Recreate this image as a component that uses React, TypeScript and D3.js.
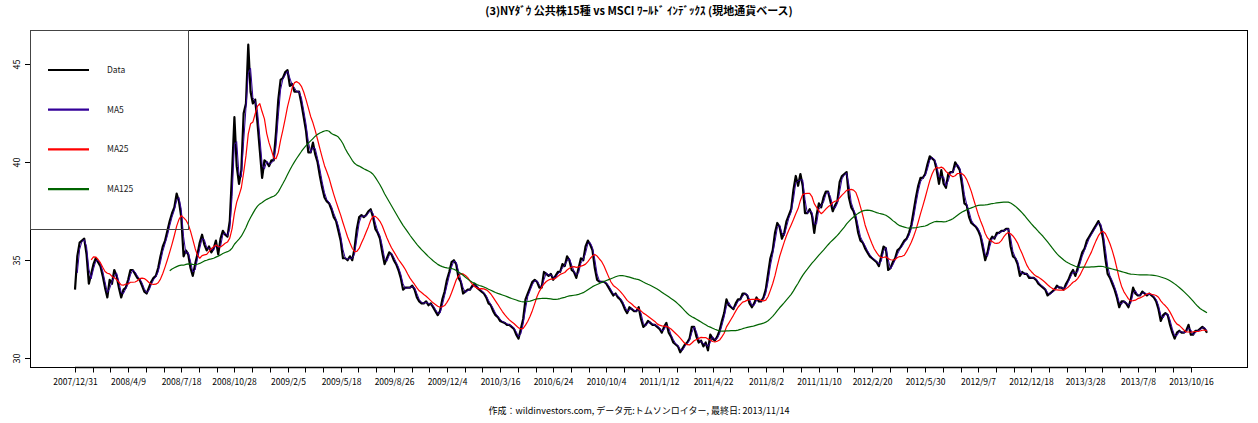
import React from "react";
import * as d3 from "d3";

// 3営業日ごとの終値（チャートから読み取り）
const STEP = 3;
const closes = [
  33.5, 35.2, 35.9, 36.0, 36.1, 35.3, 33.8, 34.3, 34.8, 35.1,
  34.9, 34.7, 34.2, 33.6, 33.1, 34.0, 33.8, 34.5, 34.2, 33.6,
  33.1, 33.5, 33.6, 34.0, 34.5, 34.5, 34.3, 34.1, 34.0, 33.7,
  33.4, 33.3, 33.6, 33.9, 34.1, 34.2, 34.6, 35.2, 35.7, 36.0,
  36.5, 37.0, 37.4, 37.7, 38.4, 38.0, 37.2, 35.2, 35.5, 35.3,
  34.6, 34.2, 34.8, 35.3, 35.9, 36.3, 35.8, 35.5, 35.7, 35.4,
  35.6, 36.0, 35.3, 36.1, 36.5, 36.3, 36.2, 37.0, 39.5, 42.3,
  39.8, 38.9, 39.6, 42.5, 43.0, 46.0, 43.6, 43.0, 43.2, 42.0,
  40.6, 39.2, 40.1, 40.0, 39.8, 40.1, 40.1, 41.5, 43.2, 44.2,
  44.3, 44.6, 44.7, 43.9, 44.0, 43.6, 43.6, 43.6, 43.0, 42.3,
  41.6, 40.5, 40.5, 41.0, 40.4, 40.0, 39.3, 38.7, 38.2, 38.0,
  37.9, 37.6, 37.2, 37.0, 36.5, 36.0, 35.1, 35.1, 35.0, 35.2,
  35.0, 35.6, 36.6, 37.2, 37.3, 37.2, 37.3, 37.5, 37.6, 37.2,
  36.6, 36.4, 36.1, 35.4, 34.8, 35.1, 35.4, 35.3, 35.0, 34.8,
  34.5, 34.1, 33.5, 33.6, 33.6, 33.6, 33.7, 33.5, 33.1, 32.9,
  32.8, 32.8, 32.9, 32.7, 32.8, 32.6, 32.4, 32.2, 32.4, 33.0,
  33.4, 34.0, 34.4, 34.9, 35.0, 34.8, 34.1, 33.9, 33.3, 33.4,
  33.5, 33.5, 33.7, 33.8, 33.6, 33.5, 33.4, 33.3, 33.1, 32.8,
  32.7, 32.4, 32.2, 32.1, 31.9, 31.85, 31.8, 31.7, 31.7, 31.6,
  31.5, 31.2, 31.0, 31.5, 32.0, 33.0, 33.3, 33.6, 33.9, 34.0,
  33.9, 33.6, 33.6, 34.4, 34.3, 34.2, 34.3, 34.0, 34.2, 34.4,
  34.4, 34.8, 34.7, 35.2, 35.0, 34.5, 34.4, 34.1, 34.6, 35.1,
  35.0, 35.7, 36.0, 35.8, 35.5, 34.6, 34.0, 33.9, 33.9, 33.9,
  33.8, 33.6, 33.4, 33.2, 33.3, 33.1, 33.0, 32.8, 32.5, 32.3,
  32.6, 32.5, 32.4, 32.4, 32.6, 32.0, 31.6, 31.7, 31.9, 31.8,
  31.7, 31.7, 31.6, 31.5, 31.3, 31.6, 31.8, 31.3, 31.1, 30.8,
  30.7, 30.6, 30.3, 30.5, 30.7, 30.8, 31.0, 31.6, 31.6, 31.1,
  30.8, 30.9, 30.6, 30.8, 30.4, 31.2, 31.0, 30.9, 31.1, 31.4,
  31.9, 32.3, 33.0, 32.7, 32.6, 32.5, 32.8, 33.0, 33.0, 33.3,
  33.3, 33.2, 32.8, 32.6, 32.8, 33.1, 32.9, 32.9, 33.1, 33.5,
  34.3, 35.1, 35.5, 36.4, 36.9, 36.7, 36.1, 36.4, 37.0, 37.3,
  37.6, 38.6, 39.3, 38.8, 39.4, 38.8, 37.4, 37.4, 37.6, 37.3,
  36.4, 37.3, 37.9, 37.7, 38.2, 38.5, 38.5, 38.0, 37.5, 37.8,
  38.0, 39.0, 39.3, 39.4, 39.5, 38.2, 37.7, 37.5, 37.1, 36.4,
  36.0, 35.9, 35.6, 35.4, 35.2, 35.1, 35.0, 34.9, 34.7, 35.2,
  35.7, 35.6, 34.5, 34.6, 34.9, 35.1, 35.5, 35.6, 35.8, 36.0,
  36.1, 36.4, 36.8, 37.5, 38.2, 38.8, 39.2, 39.2, 39.4, 39.9,
  40.3, 40.2, 40.1, 39.6, 38.9, 39.6, 38.9, 38.7, 39.4, 39.5,
  39.5, 40.0, 39.8, 39.6, 38.8, 37.9, 37.8, 37.2, 36.9, 36.8,
  36.7, 36.5, 36.2, 35.6, 35.0, 35.4, 36.0, 36.2, 36.1, 36.4,
  36.4, 36.5, 36.5, 36.6, 36.6, 35.7, 35.2, 35.1, 34.8, 34.2,
  34.4, 34.3, 34.3, 34.1, 34.1, 34.1, 34.0, 33.8, 33.7, 33.6,
  33.5, 33.2, 33.3, 33.4, 33.5, 33.7, 33.6, 33.6, 33.5, 33.8,
  34.0, 34.3, 34.5, 34.2, 34.6, 35.0, 35.4, 35.6, 36.0, 36.2,
  36.4, 36.6, 36.8, 37.0, 36.7, 36.1, 35.1, 34.3, 34.1, 33.8,
  33.5, 33.1, 32.6, 32.9, 32.9, 32.8, 32.6, 33.0, 33.6, 33.3,
  33.2, 33.2, 33.4, 33.3, 33.2, 33.3, 33.2, 33.1, 32.9, 32.5,
  31.9, 32.2, 32.3, 32.2, 31.7, 31.3, 31.0, 31.3, 31.4, 31.3,
  31.3, 31.4, 31.7, 31.2, 31.2, 31.4, 31.4, 31.5, 31.6, 31.5,
  31.3,
];

const tickLabels = [
  "2007/12/31", "2008/4/9", "2008/7/18", "2008/10/28", "2009/2/5",
  "2009/5/18", "2009/8/26", "2009/12/4", "2010/3/16", "2010/6/24",
  "2010/10/4", "2011/1/12", "2011/4/22", "2011/8/2", "2011/11/10",
  "2012/2/20", "2012/5/30", "2012/9/7", "2012/12/18", "2013/3/28",
  "2013/7/8", "2013/10/16",
];
const TICK_EVERY = 23; // 営業日
const LABEL_EVERY = 3; // 目盛り3本ごとに日付

const yTicks = [30, 35, 40, 45];

const series = [
  { name: "Data", days: 1, color: "#000000", width: 2.2 },
  { name: "MA5", days: 5, color: "#330099", width: 1.0 },
  { name: "MA25", days: 25, color: "#ff0000", width: 1.2 },
  { name: "MA125", days: 125, color: "#006400", width: 1.2 },
];

const TITLE = "(3)NYﾀﾞｳ 公共株15種 vs MSCI ﾜｰﾙﾄﾞ ｲﾝﾃﾞｯｸｽ (現地通貨ベース)";
const FOOTER = "作成：wildinvestors.com, データ元:トムソンロイター, 最終日: 2013/11/14";

const W = 1258;
const H = 423;
const plot = { left: 30, right: 1248, top: 30, bottom: 367 };

function movingAvg(vals: number[], w: number): (number | null)[] {
  return vals.map((_, i) => (i < w - 1 ? null : d3.mean(vals.slice(i - w + 1, i + 1))!));
}

export default function App() {
  const lastIdx = (closes.length - 1) * STEP;
  const x = d3.scaleLinear().domain([0, lastIdx]).range([75, 1207]);
  const y = d3.scaleLinear().domain([29.55, 46.75]).range([plot.bottom, plot.top]);

  const paths = series.map((s) => {
    const w = Math.max(1, Math.round(s.days / STEP));
    const vals = w === 1 ? closes : movingAvg(closes, w);
    const line = d3
      .line<number | null>()
      .defined((d) => d != null)
      .x((_, i) => x(i * STEP))
      .y((d) => y(d as number));
    return { ...s, d: line(vals) || "" };
  });

  const ticks = d3.range(0, tickLabels.length * LABEL_EVERY - LABEL_EVERY + 1).map((k) => k * TICK_EVERY);
  const font = "'Noto Sans CJK JP', 'DejaVu Sans', sans-serif";

  return (
    <div>
      <style>{"body{margin:0}"}</style>
      <svg width={W} height={H} style={{ display: "block", background: "#fff" }} fontFamily={font}>
        <text x={(plot.left + plot.right) / 2} y={15} textAnchor="middle" fontSize={11} fontWeight="bold">
          {TITLE}
        </text>

        <g fill="none" strokeLinejoin="round">
          {paths.map((p) => (
            <path key={p.name} d={p.d} stroke={p.color} strokeWidth={p.width} />
          ))}
        </g>

        {/* 枠 */}
        <rect
          x={plot.left + 0.5}
          y={plot.top + 0.5}
          width={plot.right - plot.left - 1}
          height={plot.bottom - plot.top}
          fill="none"
          stroke="#000"
        />

        {/* Y軸 */}
        <g>
          {yTicks.map((v) => (
            <g key={v} transform={`translate(${plot.left},${Math.round(y(v)) + 0.5})`}>
              <line x1={-5} x2={0} stroke="#000" />
              <text transform="translate(-13,0) rotate(-90)" textAnchor="middle" dy="0.35em" fontSize={9}>
                {v}
              </text>
            </g>
          ))}
        </g>

        {/* X軸 */}
        <g transform={`translate(0,${plot.bottom + 0.5})`}>
          <line x1={x(ticks[0])} x2={x(ticks[ticks.length - 1])} stroke="#000" strokeWidth={1.5} />
          {ticks.map((t, k) => (
            <g key={t} transform={`translate(${Math.round(x(t)) + 0.5},0)`}>
              <line y1={0} y2={5} stroke="#000" />
              {k % LABEL_EVERY === 0 && (
                <text y={17} textAnchor="middle" fontSize={8.5}>
                  {tickLabels[k / LABEL_EVERY]}
                </text>
              )}
            </g>
          ))}
        </g>

        {/* 凡例 */}
        <rect x={plot.left + 0.5} y={plot.top + 0.5} width={158} height={199} fill="none" stroke="#444" />
        {paths.map((p, i) => (
          <g key={p.name} transform={`translate(48,${70 + i * 39.7})`}>
            <line x1={0} x2={41} stroke={p.color} strokeWidth={2.2} />
            <text x={59} dy="0.35em" fontSize={8.5} fill="#222">
              {p.name}
            </text>
          </g>
        ))}

        <text x={(plot.left + plot.right) / 2} y={414} textAnchor="middle" fontSize={9}>
          {FOOTER}
        </text>
      </svg>
    </div>
  );
}
